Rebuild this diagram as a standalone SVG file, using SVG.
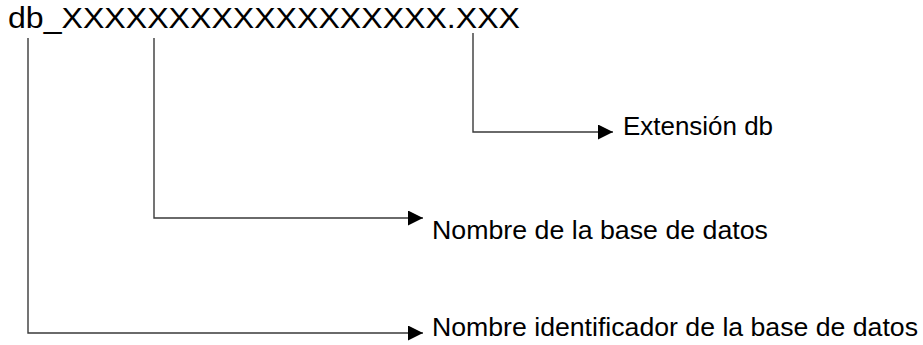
<svg xmlns="http://www.w3.org/2000/svg" width="923" height="345" viewBox="0 0 923 345">
<defs>
<marker id="ah" markerUnits="userSpaceOnUse" markerWidth="16" markerHeight="16" refX="15" refY="7.5" orient="auto">
<path d="M0,0 L15,7.5 L0,15 Z" fill="#000"/>
</marker>
<style>
.t{font-family:"Liberation Sans",Arial,sans-serif;fill:#000}
.c{fill:none;stroke:#3a3a3a;stroke-width:1.4;marker-end:url(#ah)}
</style>
</defs>
<rect width="923" height="345" fill="#fff"/>
<g id="title">
<text class="t" x="8" y="28" font-size="30" textLength="512" lengthAdjust="spacingAndGlyphs">db_XXXXXXXXXXXXXXXXXX.XXX</text>
</g>
<g id="connectors">
<polyline class="c" points="473,33 473,132 613,132"/>
<polyline class="c" points="154,38 154,218 423,218"/>
<polyline class="c" points="28,38 28,333 423,333"/>
</g>
<g id="node-extension">
<text class="t" x="623" y="135" font-size="25" textLength="150" lengthAdjust="spacingAndGlyphs">Extensión db</text>
</g>
<g id="node-nombre">
<text class="t" x="432" y="239" font-size="25" textLength="336" lengthAdjust="spacingAndGlyphs">Nombre de la base de datos</text>
</g>
<g id="node-identificador">
<text class="t" x="432" y="336" font-size="25" textLength="486" lengthAdjust="spacingAndGlyphs">Nombre identificador de la base de datos</text>
</g>
</svg>
